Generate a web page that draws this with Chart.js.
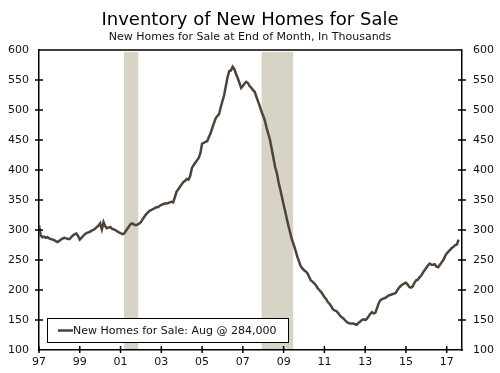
<!DOCTYPE html>
<html>
<head>
<meta charset="utf-8">
<title>Inventory of New Homes for Sale</title>
<script src="https://cdn.jsdelivr.net/npm/chart.js@4.4.0/dist/chart.umd.min.js"></script>
<style>
  body { margin: 0; background: #fff; }
</style>
</head>
<body>
<canvas id="chart" width="500" height="373"></canvas>
<script>
// New homes for sale, end of month, thousands (Jan 1997 - Aug 2017)
const startYear = 1997;
const lastMonth = 'Aug';
const homesForSale = [
  308, 291, 288, 289, 287, 288, 286, 285, 284, 283, 281, 280,
  282, 284, 286, 287, 286, 285, 285, 288, 291, 293, 294, 290,
  284, 287, 290, 293, 295, 296, 297, 299, 300, 302, 305, 307,
  311, 301, 313, 306, 303, 304, 305, 302, 301, 300, 298, 296,
  295, 293, 294, 298, 302, 306, 310, 311, 309, 308, 309, 311,
  313, 318, 322, 326, 329, 332, 333, 335, 336, 338, 338, 340,
  342, 343, 344, 344, 345, 346, 347, 346, 355, 364, 368, 372,
  376, 380, 382, 385, 384, 390, 403, 408, 412, 416, 420, 428,
  444, 445, 447, 448, 455, 461, 470, 478, 486, 490, 493, 505,
  515, 525, 540, 555, 565, 566, 572, 568, 560, 553, 545, 537,
  540, 544, 547, 545, 540, 537, 533, 530, 522, 514, 506, 497,
  490, 482, 470, 460, 450, 435, 420, 405, 395, 380, 368, 355,
  342, 330, 317, 305, 294, 283, 275, 266, 256, 248, 240, 236,
  233, 231, 228, 222, 216, 214, 211, 208, 203, 200, 197, 193,
  188, 185, 180, 177, 173, 168, 166, 165, 162, 158, 155, 153,
  150, 147, 145, 144, 144, 144, 143, 142, 145, 147, 150, 151,
  150, 152, 156, 160, 163, 161, 162, 170, 178, 183, 185, 186,
  187, 189, 191, 192, 193, 194, 195, 200, 204, 207, 209, 211,
  212, 209, 205, 204, 206, 212, 216, 217, 221, 224, 229, 233,
  237, 241, 244, 242, 242, 243, 239, 238, 242, 246, 250, 256,
  261, 264, 267, 270, 272, 275, 276, 284
];
const tickYears = [1997, 1999, 2001, 2003, 2005, 2007, 2009, 2011, 2013, 2015, 2017];
const tickLabels = ['97', '99', '01', '03', '05', '07', '09', '11', '13', '15', '17'];
// recessions (shaded)
const recessionStart = [2001.17, 2007.92];
const recessionEnd = [2001.87, 2009.47];

const lineColor = '#4d433a';
const seriesLabel = 'New Homes for Sale';
const latest = homesForSale[homesForSale.length - 1] * 1000;
const legendText = seriesLabel + ': ' + lastMonth + ' @ ' + latest.toLocaleString('en-US');

Chart.defaults.font.family = '"DejaVu Sans", Verdana, sans-serif';
Chart.defaults.color = '#111';

const recessionBars = {
  id: 'recessionBars',
  beforeDatasetsDraw(chart) {
    const { ctx, chartArea, scales: { x } } = chart;
    ctx.save();
    ctx.fillStyle = '#d7d4c6';
    recessionStart.forEach((s, i) => {
      const x0 = x.getPixelForValue(s);
      const x1 = x.getPixelForValue(recessionEnd[i]);
      ctx.fillRect(x0, chartArea.top + 2, x1 - x0, chartArea.bottom - chartArea.top - 3);
    });
    ctx.restore();
  }
};

const axisFrame = {
  id: 'axisFrame',
  afterDatasetsDraw(chart) {
    const { ctx, chartArea: a, scales } = chart;
    ctx.save();
    ctx.strokeStyle = '#000';
    ctx.lineWidth = 1.5;
    ctx.beginPath();
    ctx.moveTo(a.left, a.top);
    ctx.lineTo(a.right, a.top);
    scales.y.ticks.forEach(t => {
      if (t.value <= 100 || t.value >= 600) return;
      const py = scales.y.getPixelForValue(t.value);
      ctx.moveTo(a.left - 4, py); ctx.lineTo(a.left + 4, py);
      ctx.moveTo(a.right - 4, py); ctx.lineTo(a.right + 4, py);
    });
    scales.x.ticks.forEach(t => {
      const px = scales.x.getPixelForValue(t.value);
      ctx.moveTo(px, a.bottom - 4); ctx.lineTo(px, a.bottom + 3);
    });
    ctx.stroke();

    // legend box
    const left = a.left + 8, top = a.bottom - 32, w = 241, h = 24;
    ctx.fillStyle = '#fff';
    ctx.fillRect(left, top, w, h);
    ctx.lineWidth = 1;
    ctx.strokeRect(left + 0.5, top + 0.5, w, h);
    ctx.strokeStyle = lineColor;
    ctx.lineWidth = 2.5;
    ctx.beginPath();
    ctx.moveTo(left + 11, top + 12.5);
    ctx.lineTo(left + 26, top + 12.5);
    ctx.stroke();
    ctx.fillStyle = '#111';
    ctx.font = '11px "DejaVu Sans", Verdana, sans-serif';
    ctx.textBaseline = 'middle';
    ctx.fillText(legendText, left + 26, top + 13);
    ctx.restore();
  }
};

new Chart(document.getElementById('chart'), {
  type: 'line',
  data: {
    datasets: [{
      label: seriesLabel,
      data: homesForSale.map((v, i) => ({ x: startYear + i / 12, y: v })),
      borderColor: lineColor,
      borderWidth: 2.5,
      pointRadius: 0,
      tension: 0,
      fill: false
    }]
  },
  options: {
    responsive: false,
    animation: false,
    devicePixelRatio: 1,
    layout: { padding: 0 },
    plugins: {
      legend: { display: false },
      tooltip: { enabled: false },
      title: {
        display: true,
        text: 'Inventory of New Homes for Sale',
        color: '#000',
        font: { size: 18, weight: 'normal', lineHeight: 1 },
        padding: { top: 11, bottom: 2 }
      },
      subtitle: {
        display: true,
        text: 'New Homes for Sale at End of Month, In Thousands',
        color: '#111',
        font: { size: 11, lineHeight: 1.2 },
        padding: { top: 0, bottom: 5.8 }
      }
    },
    scales: {
      x: {
        type: 'linear',
        min: 1997,
        max: 2017.75,
        grid: { display: false, drawTicks: false },
        border: { display: true, color: '#000', width: 1.5 },
        afterBuildTicks: scale => { scale.ticks = tickYears.map(v => ({ value: v })); },
        afterFit: scale => { scale.height = 23; },
        ticks: {
          autoSkip: false,
          maxRotation: 0,
          padding: 6,
          font: { size: 11 },
          callback: v => tickLabels[tickYears.indexOf(v)]
        }
      },
      y: {
        position: 'left',
        min: 100,
        max: 600,
        grid: { display: false, drawTicks: false },
        border: { display: true, color: '#000', width: 1.5 },
        afterFit: scale => { scale.width = 39; },
        ticks: { stepSize: 50, padding: 10, font: { size: 11 } }
      },
      y2: {
        position: 'right',
        min: 100,
        max: 600,
        grid: { display: false, drawTicks: false },
        border: { display: true, color: '#000', width: 1.5 },
        afterFit: scale => { scale.width = 38; },
        ticks: { stepSize: 50, padding: 11, font: { size: 11 } }
      }
    }
  },
  plugins: [recessionBars, axisFrame]
});
</script>
</body>
</html>
